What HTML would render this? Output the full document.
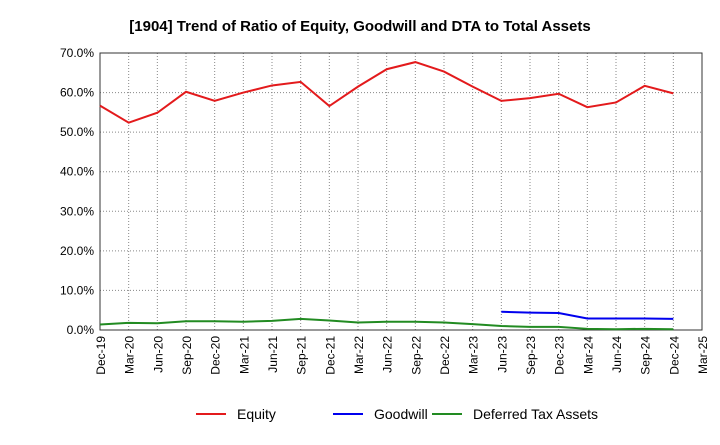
<!DOCTYPE html>
<html><head><meta charset="utf-8"><style>
body{margin:0;background:#fff;font-family:"Liberation Sans",sans-serif}
</style></head><body>
<svg id="chart" width="720" height="440" xmlns="http://www.w3.org/2000/svg">
<text x="360" y="31" text-anchor="middle" font-size="15" font-weight="bold">[1904]  Trend of Ratio of Equity, Goodwill and DTA to Total Assets</text>
<g id="grid"></g><g id="axes"></g><g id="series"></g><g id="legend"></g>
</svg>
<script>
const categories=["Dec-19","Mar-20","Jun-20","Sep-20","Dec-20","Mar-21","Jun-21","Sep-21","Dec-21","Mar-22","Jun-22","Sep-22","Dec-22","Mar-23","Jun-23","Sep-23","Dec-23","Mar-24","Jun-24","Sep-24","Dec-24","Mar-25"];
const equity=[56.7,52.4,54.9,60.2,57.9,60.0,61.8,62.7,56.6,61.5,65.9,67.7,65.3,61.5,57.9,58.6,59.7,56.3,57.5,61.7,59.8,null];
const goodwill=[null,null,null,null,null,null,null,null,null,null,null,null,null,null,4.6,4.4,4.3,2.9,2.9,2.9,2.8,null];
const dta=[1.4,1.8,1.7,2.2,2.2,2.1,2.3,2.8,2.4,1.9,2.1,2.1,1.9,1.5,1.0,0.8,0.8,0.3,0.2,0.3,0.2,null];
const yTicks=[0,10,20,30,40,50,60,70];
const NS="http://www.w3.org/2000/svg";
const L=100,R=702,T=53,B=330;
const x=i=>L+i*(R-L)/(categories.length-1);
const y=v=>B-v/70*(B-T);
function mk(tag,attrs,parent){const e=document.createElementNS(NS,tag);for(const k in attrs)e.setAttribute(k,attrs[k]);parent.appendChild(e);return e;}
const grid=document.getElementById('grid'),axes=document.getElementById('axes'),series=document.getElementById('series'),legend=document.getElementById('legend');
categories.forEach((c,i)=>{
  const l=mk('line',{x1:x(i),x2:x(i),y1:T,y2:B,stroke:'#888','stroke-dasharray':'1,2','stroke-width':1},grid);
  
  
  const t=mk('text',{transform:`translate(${x(i)+5},${B+6}) rotate(-90)`,'text-anchor':'end','font-size':12},axes);
  t.textContent=c;
  
  
});
yTicks.forEach(v=>{
  const l=mk('line',{x1:L,x2:R,y1:y(v),y2:y(v),stroke:'#888','stroke-dasharray':'1,2','stroke-width':1},grid);
  
  
  const t=mk('text',{x:L-6,y:y(v)+4,'text-anchor':'end','font-size':12},axes);
  t.textContent=v.toFixed(1)+'%';
  
  
});
const frame=mk('rect',{x:L,y:T,width:R-L,height:B-T,fill:'none',stroke:'#333'},axes);


function line(data,color,name){
  let d='';data.forEach((v,i)=>{if(v==null)return;d+=(d?'L':'M')+x(i)+','+y(v);});
  const p=mk('path',{d:d,fill:'none',stroke:color,'stroke-width':2},series);
  
  
}
line(equity,'#e31a1c','equity-line');
line(goodwill,'#0000ee','goodwill-line');
line(dta,'#228b22','deferred-tax-assets-line');
[["Equity",'#e31a1c',196,'legend-equity'],["Goodwill",'#0000ee',333,'legend-goodwill'],["Deferred Tax Assets",'#228b22',432,'legend-dta']].forEach(e=>{
  const g=mk('g',{},legend);
  
  
  mk('line',{x1:e[2],x2:e[2]+30,y1:414,y2:414,stroke:e[1],'stroke-width':2},g);
  const t=mk('text',{x:e[2]+41,y:419,'font-size':14},g);t.textContent=e[0];
});
</script>
</body></html>
